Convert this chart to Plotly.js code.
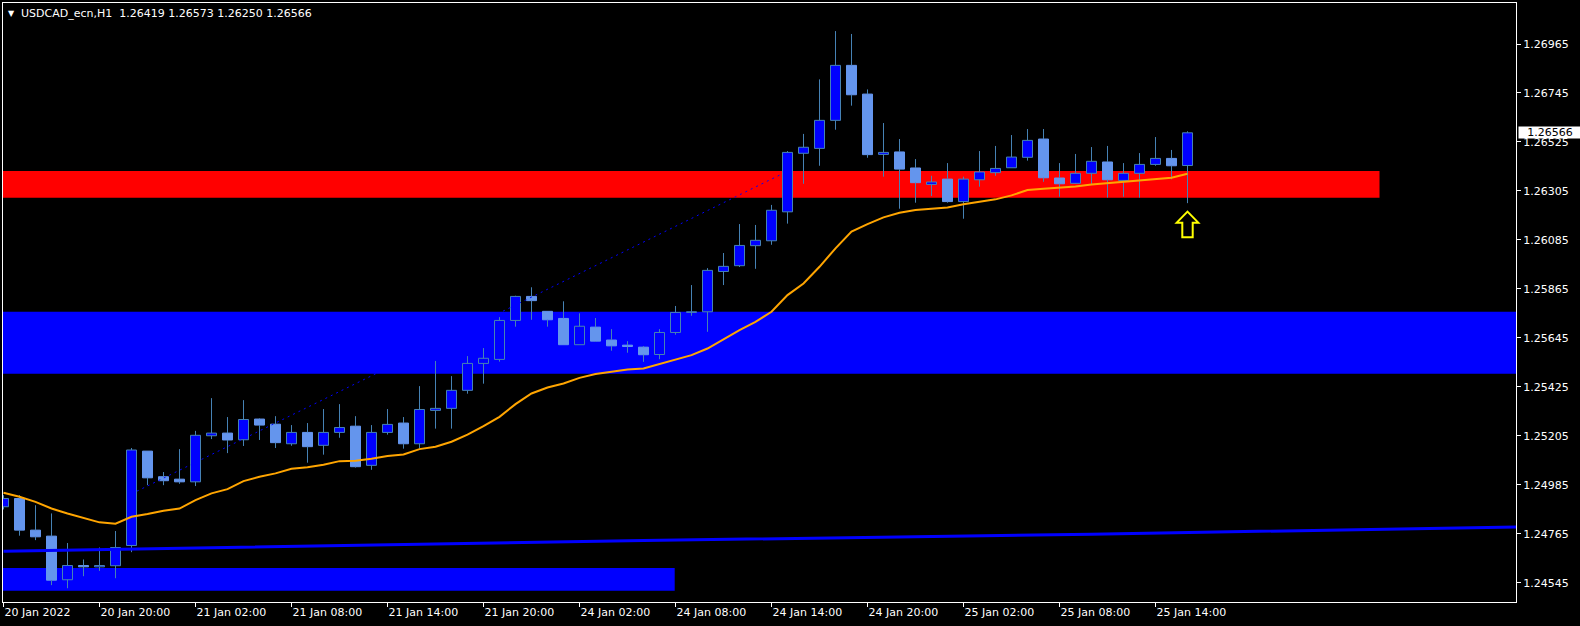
<!DOCTYPE html>
<html>
<head>
<meta charset="utf-8">
<script src="https://cdn.plot.ly/plotly-3.0.1.min.js"></script>
<style>
html,body{margin:0;padding:0;background:#000;}
#chart{width:1580px;height:626px;}
</style>
</head>
<body>
<div id="chart"></div>
<script>
// ---- data (USDCAD_ecn, H1) ----
const opens  = [1.24886,1.24923,1.24781,1.24754,1.24558,1.24622,1.24616,1.24621,1.24712,1.25136,
                1.25021,1.25010,1.24998,1.25205,1.25217,1.25187,1.25280,1.25257,1.25169,1.25220,
                1.25162,1.25220,1.25248,1.25072,1.25220,1.25262,1.25169,1.25319,1.25328,1.25409,
                1.25530,1.25548,1.25723,1.25831,1.25764,1.25732,1.25614,1.25693,1.25635,1.25612,
                1.25603,1.25570,1.25669,1.25759,1.25762,1.25943,1.25969,1.26059,1.26081,1.26211,
                1.26474,1.26496,1.26622,1.26869,1.26740,1.26469,1.26480,1.26408,1.26334,1.26358,
                1.26257,1.26355,1.26387,1.26409,1.26456,1.26538,1.26363,1.26339,1.26384,1.26435,
                1.26352,1.26384,1.26424,1.26451,1.26419];
const highs  = [1.24938,1.24938,1.24893,1.24856,1.24723,1.24649,1.24703,1.24777,1.25150,1.25136,
                1.25042,1.25145,1.25227,1.25374,1.25289,1.25365,1.25283,1.25293,1.25253,1.25262,
                1.25325,1.25347,1.25293,1.25253,1.25325,1.25289,1.25428,1.25541,1.25473,1.25563,
                1.25599,1.25738,1.25834,1.25872,1.25764,1.25809,1.25755,1.25734,1.25684,1.25630,
                1.25608,1.25684,1.25788,1.25882,1.25958,1.26026,1.26156,1.26152,1.26242,1.26484,
                1.26561,1.26806,1.27023,1.27010,1.26761,1.26610,1.26538,1.26448,1.26373,1.26430,
                1.26369,1.26484,1.26507,1.26556,1.26583,1.26583,1.26430,1.26471,1.26502,1.26507,
                1.26430,1.26475,1.26547,1.26489,1.26573];
const lows   = [1.24874,1.24756,1.24736,1.24534,1.24520,1.24574,1.24598,1.24565,1.24682,1.24983,
                1.24983,1.24989,1.24979,1.25190,1.25127,1.25159,1.25186,1.25150,1.25160,1.25084,
                1.25120,1.25196,1.25062,1.25052,1.25210,1.25147,1.25147,1.25237,1.25237,1.25394,
                1.25439,1.25538,1.25695,1.25726,1.25695,1.25614,1.25614,1.25627,1.25587,1.25578,
                1.25537,1.25549,1.25659,1.25744,1.25672,1.25882,1.25963,1.25955,1.26063,1.26158,
                1.26337,1.26418,1.26580,1.26688,1.26454,1.26369,1.26225,1.26252,1.26282,1.26252,
                1.26180,1.26324,1.26373,1.26409,1.26441,1.26346,1.26279,1.26336,1.26336,1.26275,
                1.26279,1.26275,1.26418,1.26357,1.26250];
const closes = [1.24923,1.24781,1.24751,1.24556,1.24622,1.24616,1.24622,1.24703,1.25141,1.25016,
                1.25003,1.24998,1.25207,1.25217,1.25186,1.25278,1.25253,1.25174,1.25220,1.25156,
                1.25220,1.25242,1.25066,1.25220,1.25256,1.25169,1.25323,1.25328,1.25409,1.25530,
                1.25553,1.25723,1.25831,1.25812,1.25726,1.25614,1.25697,1.25630,1.25609,1.25606,
                1.25569,1.25669,1.25759,1.25762,1.25948,1.25966,1.26060,1.26083,1.26218,1.26478,
                1.26501,1.26622,1.26869,1.26737,1.26468,1.26478,1.26403,1.26342,1.26345,1.26257,
                1.26358,1.26390,1.26406,1.26457,1.26532,1.26364,1.26337,1.26384,1.26438,1.26355,
                1.26384,1.26424,1.26451,1.26418,1.26566];
// short moving average (orange), one value per bar
const maFast = [1.24949,1.24931,1.24908,1.24878,1.24856,1.24836,1.24816,1.24810,1.24841,1.24853,
                1.24868,1.24878,1.24916,1.24946,1.24965,1.25001,1.25021,1.25036,1.25057,1.25063,
                1.25075,1.25091,1.25093,1.25102,1.25114,1.25121,1.25145,1.25156,1.25178,1.25210,
                1.25248,1.25290,1.25347,1.25395,1.25422,1.25440,1.25465,1.25482,1.25492,1.25503,
                1.25507,1.25527,1.25545,1.25567,1.25597,1.25638,1.25680,1.25717,1.25762,1.25837,
                1.25889,1.25964,1.26047,1.26122,1.26156,1.26186,1.26207,1.26219,1.26225,1.26230,
                1.26245,1.26255,1.26267,1.26285,1.26309,1.26315,1.26319,1.26325,1.26334,1.26340,
                1.26345,1.26352,1.26360,1.26364,1.26382];
// long moving average (blue), read at a few bar positions
const maSlowX = [0, 18, 40, 68, 94.6];
const maSlowY = [1.24686, 1.24708, 1.24734, 1.24763, 1.24795];
// dotted trend line
const trendX = [8.34, 48.65];
const trendY = [1.24956, 1.26381];
// price zones
const zoneStart = [-1, -1, -1];
const zoneEnd   = [86, 100, 41.95];
const zoneLow   = [1.26274, 1.25483, 1.24509];
const zoneHigh  = [1.26394, 1.25762, 1.24611];
const zoneColor = ['#FF0000', '#0000FF', '#0000FF'];
// axis labels
const timeTickIdx = [0,6,12,18,24,30,36,42,48,54,60,66,72];
const timeTickText = ['20 Jan 2022','20 Jan 20:00','21 Jan 02:00','21 Jan 08:00','21 Jan 14:00',
                      '21 Jan 20:00','24 Jan 02:00','24 Jan 08:00','24 Jan 14:00','24 Jan 20:00',
                      '25 Jan 02:00','25 Jan 08:00','25 Jan 14:00'];
const priceTicks = [1.24545,1.24765,1.24985,1.25205,1.25425,1.25645,1.25865,1.26085,1.26305,1.26525,1.26745,1.26965];
const symbol = 'USDCAD_ecn,H1';
const signalBar = 74;

// ---- build traces ----
const n = opens.length;
const idx = [], base = [], size = [], fill = [], edge = [];
const wx = [], wy = [];
for (let i = 0; i < n; i++) {
  idx.push(i);
  const top = Math.max(opens[i], closes[i]);
  const bot = Math.min(opens[i], closes[i]);
  base.push(bot);
  size.push(Math.max(top - bot, 0.00002));
  const bull = closes[i] >= opens[i];
  fill.push(bull ? '#0000FF' : '#6495ED');
  edge.push(bull ? '#4682B4' : '#6495ED');
  wx.push(i, i, null, i, i, null);
  wy.push(highs[i], top, null, bot, lows[i], null);
}

const traces = [
  {type:'bar', x: idx, y: size, base: base, width: 0.625,
   marker:{color: fill, line:{color: edge, width: 1}}, hoverinfo:'skip', showlegend:false},
  {type:'scatter', mode:'lines', x: wx, y: wy, connectgaps:false,
   line:{color:'#4682B4', width:1}, hoverinfo:'skip', showlegend:false},
  {type:'scatter', mode:'lines', x: trendX, y: trendY,
   line:{color:'#0000FF', width:1, dash:'2px,4px'}, hoverinfo:'skip', showlegend:false},
  {type:'scatter', mode:'lines', x: maSlowX, y: maSlowY,
   line:{color:'#0000FF', width:3}, hoverinfo:'skip', showlegend:false},
  {type:'scatter', mode:'lines', x: idx, y: maFast,
   line:{color:'#FFA500', width:2}, hoverinfo:'skip', showlegend:false}
];

const shapes = [];
for (let k = 0; k < zoneLow.length; k++) {
  shapes.push({type:'rect', xref:'x', yref:'y', layer:'below',
    x0: zoneStart[k], x1: zoneEnd[k], y0: zoneLow[k], y1: zoneHigh[k],
    fillcolor: zoneColor[k], line:{width:0}});
}
// hollow up-arrow marker below the signal bar
shapes.push({type:'path', xref:'x', yref:'y', layer:'above',
  xsizemode:'pixel', ysizemode:'pixel', xanchor: signalBar, yanchor: lows[signalBar],
  path:'M0,-8.5 L10.8,-19.5 L5.2,-19.5 L5.2,-34 L-5.2,-34 L-5.2,-19.5 L-10.8,-19.5 Z',
  line:{color:'#FFFF00', width:2}, fillcolor:'rgba(0,0,0,0)'});

const font = {family:'DejaVu Sans, Verdana, sans-serif', size:11, color:'#FFFFFF'};
const last = n - 1;
const header = symbol + '\u00a0\u00a0' + [opens[last], highs[last], lows[last], closes[last]].map(v => v.toFixed(5)).join(' ');

const layout = {
  width:1580, height:626,
  margin:{l:3, r:64, t:3, b:24, pad:0},
  paper_bgcolor:'#000000', plot_bgcolor:'#000000',
  showlegend:false, hovermode:false, barmode:'overlay',
  font: font,
  xaxis:{range:[-0.03125, 94.53125], showgrid:false, zeroline:false,
    tickmode:'array', tickvals: timeTickIdx, ticktext: timeTickText,
    ticks:'outside', ticklen:4, tickwidth:1, tickcolor:'#FFFFFF',
    ticklabelposition:'outside right', tickfont: font,
    showline:true, mirror:true, linecolor:'#FFFFFF', linewidth:1, fixedrange:true},
  yaxis:{range:[1.244581, 1.271492], side:'right', showgrid:false, zeroline:false,
    tickmode:'array', tickvals: priceTicks, ticktext: priceTicks.map(v => v.toFixed(5)),
    ticks:'outside', ticklen:4, tickwidth:1, tickcolor:'#FFFFFF', tickfont: font,
    showline:true, mirror:true, linecolor:'#FFFFFF', linewidth:1, fixedrange:true},
  shapes: shapes,
  annotations:[
    {xref:'paper', yref:'paper', x:0, y:1, xanchor:'left', yanchor:'middle',
     xshift:3, yshift:-10, text:'\u25BC', showarrow:false,
     font:{family:'DejaVu Sans, sans-serif', size:8, color:'#FFFFFF'}},
    {xref:'paper', yref:'paper', x:0, y:1, xanchor:'left', yanchor:'middle',
     xshift:16, yshift:-10, text: header, showarrow:false, font: font},
    {xref:'paper', yref:'y', x:1, y: closes[last], xanchor:'left', yanchor:'middle',
     xshift:2, text: closes[last].toFixed(5), showarrow:false,
     bgcolor:'#FFFFFF', borderpad:0, width:62, height:11,
     font:{family:'DejaVu Sans, sans-serif', size:11, color:'#000000'}}
  ]
};

Plotly.newPlot('chart', traces, layout, {staticPlot:true, displayModeBar:false});
</script>
</body>
</html>
